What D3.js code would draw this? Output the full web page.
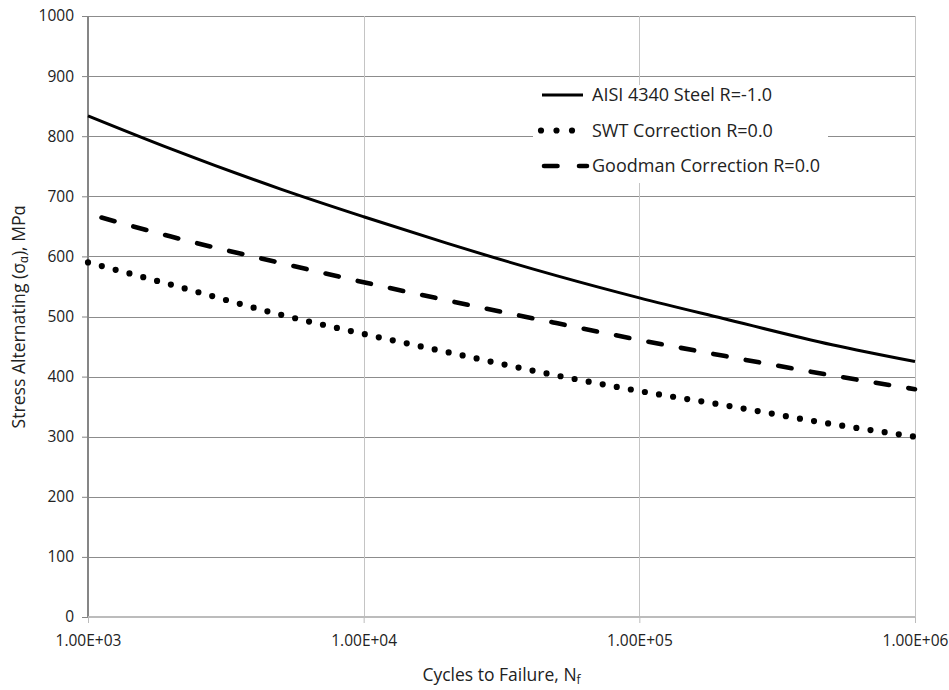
<!DOCTYPE html>
<html>
<head>
<meta charset="utf-8">
<script src="https://cdn.jsdelivr.net/npm/d3@7"></script>
<style>
  body { margin: 0; background: #fff; }
  text { font-family: "Open Sans", sans-serif; fill: #222; }
</style>
</head>
<body>
<svg id="chart" width="949" height="690"></svg>
<script>
// values
var cycles = [1e3, 2e3, 5e3, 1e4, 2e4, 5e4, 1e5, 2e5, 5e5, 1e6];
var aisi = [834, 779, 712, 666, 622, 568, 531, 497, 453, 425];
var swt = [590, 553, 503, 471, 441, 402, 376, 353, 321, 300];
var goodman = [671, 633, 589, 557, 527, 489, 461, 435, 402, 379];
var yTicks = [0, 100, 200, 300, 400, 500, 600, 700, 800, 900, 1000];
var xTicks = [1e3, 1e4, 1e5, 1e6];

var series = [
  { name: 'AISI 4340 Steel R=-1.0', values: aisi, width: 3, dash: null, offset: 0, legendDash: null },
  { name: 'SWT Correction R=0.0', values: swt, width: 6.2, dash: '0 14.3', offset: 0, legendDash: '0 15.5' },
  { name: 'Goodman Correction R=0.0', values: goodman, width: 4.6, dash: '13.5 19.5', offset: 19, legendDash: '13.5 21.5' }
];

var margin = { top: 16, right: 34, bottom: 73, left: 88 },
  width = 949 - margin.left - margin.right,
  height = 690 - margin.top - margin.bottom;

var svg = d3.select('#chart');
var g = svg.append('g')
  .attr('transform', 'translate(' + margin.left + ',' + margin.top + ')');

var x = d3.scaleLog().domain([1e3, 1e6]).range([0, width]);
var y = d3.scaleLinear().domain([0, 1000]).range([height, 0]);

// gridlines
g.append('g').selectAll('line').data(yTicks.slice(1)).enter().append('line')
  .attr('x1', 0).attr('x2', width)
  .attr('y1', function(d) { return Math.round(y(d)) + 0.5; })
  .attr('y2', function(d) { return Math.round(y(d)) + 0.5; })
  .attr('stroke', '#8c8c8c').attr('stroke-width', 1);

g.append('g').selectAll('line').data(xTicks.slice(1)).enter().append('line')
  .attr('x1', function(d) { return Math.round(x(d)) + 0.5; })
  .attr('x2', function(d) { return Math.round(x(d)) + 0.5; })
  .attr('y1', 0).attr('y2', height)
  .attr('stroke', '#c4c4c4').attr('stroke-width', 1);

// axes
var yAxis = d3.axisLeft(y).tickValues(yTicks).tickSize(6).tickPadding(8).tickFormat(d3.format('d'));
var yg = g.append('g').call(yAxis);
yg.select('.domain').attr('stroke', '#868686').attr('stroke-width', 2).attr('d', 'M0,0V' + height);
yg.selectAll('.tick line').attr('stroke', '#868686');
yg.selectAll('.tick text').style('font-size', '15.5px').attr('fill', '#222');

var xAxis = d3.axisBottom(x).tickValues(xTicks).tickSize(6).tickPadding(12)
  .tickFormat(function(d) { return d.toExponential(2).toUpperCase().replace('E+', 'E+0'); });
var xg = g.append('g').attr('transform', 'translate(0,' + height + ')').call(xAxis);
xg.select('.domain').attr('stroke', '#bcbcbc').attr('stroke-width', 2).attr('d', 'M0,0H' + width);
xg.selectAll('.tick line').attr('stroke', '#bcbcbc');
xg.selectAll('.tick text').style('font-size', '15.5px').attr('fill', '#222');

// lines
var line = d3.line()
  .x(function(d, i) { return x(cycles[i]); })
  .y(function(d) { return y(d); })
  .curve(d3.curveMonotoneX);

g.append('defs').append('clipPath').attr('id', 'clip')
  .append('rect').attr('x', -4).attr('y', -4).attr('width', width + 8).attr('height', height + 8);

g.append('g').attr('clip-path', 'url(#clip)').selectAll('path').data(series).enter().append('path')
  .attr('d', function(s) { return line(s.values); })
  .attr('fill', 'none')
  .attr('stroke', '#000')
  .attr('stroke-width', function(s) { return s.width; })
  .attr('stroke-linecap', function(s) { return s.dash ? 'round' : 'butt'; })
  .attr('stroke-dasharray', function(s) { return s.dash; })
  .attr('stroke-dashoffset', function(s) { return s.offset; });

// legend
var legend = g.append('g').attr('transform', 'translate(' + (533 - margin.left) + ',' + (85 - margin.top) + ')');
legend.append('rect').attr('width', 295).attr('height', 98).attr('fill', '#fff');
var items = legend.selectAll('g').data(series).enter().append('g')
  .attr('transform', function(s, i) { return 'translate(0,' + (10 + i * 35.5) + ')'; });
items.append('line')
  .attr('x1', function(s, i) { return i === 0 ? 9 : i === 1 ? 8 : 11; })
  .attr('x2', function(s, i) { return i === 0 ? 50 : i === 1 ? 40 : 54; })
  .attr('stroke', '#000')
  .attr('stroke-width', function(s) { return s.width; })
  .attr('stroke-linecap', function(s) { return s.dash ? 'round' : 'butt'; })
  .attr('stroke-dasharray', function(s) { return s.legendDash; });
items.append('text')
  .attr('x', 59)
  .attr('dy', '0.36em')
  .style('font-size', '18px')
  .text(function(s) { return s.name; });

// axis titles
svg.append('text')
  .attr('x', margin.left + width / 2).attr('y', 681)
  .attr('text-anchor', 'middle').style('font-size', '17.5px')
  .html('Cycles to Failure, N<tspan baseline-shift="-3" font-size="12px">f</tspan>');

svg.append('text')
  .attr('transform', 'translate(25,317) rotate(-90)')
  .attr('text-anchor', 'middle').style('font-size', '17.6px')
  .html('Stress Alternating (σ<tspan baseline-shift="-3" font-size="12.5px">ɑ</tspan>), MPɑ');
</script>
</body>
</html>
